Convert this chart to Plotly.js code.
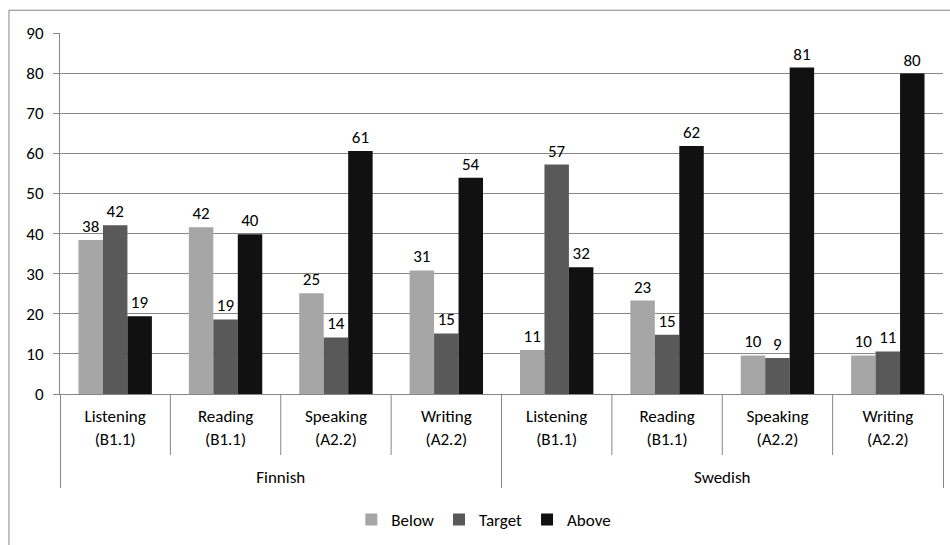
<!DOCTYPE html>
<html>
<head>
<meta charset="utf-8">
<script src="https://cdn.plot.ly/plotly-3.0.1.min.js"></script>
<style>
html,body{margin:0;padding:0;background:#fff;}
#chart{width:950px;height:545px;}
</style>
</head>
<body>
<div id="chart"></div>
<script>
const groups = ["Finnish","Finnish","Finnish","Finnish","Swedish","Swedish","Swedish","Swedish"];
const skills = ["Listening<br>(B1.1)","Reading<br>(B1.1)","Speaking<br>(A2.2)","Writing<br>(A2.2)",
                "Listening<br>(B1.1)","Reading<br>(B1.1)","Speaking<br>(A2.2)","Writing<br>(A2.2)"];
const below  = [38.4, 41.6, 25.1, 30.8, 11.0, 23.3, 9.6, 9.6];
const target = [42.1, 18.6, 14.1, 15.1, 57.2, 14.8, 9.0, 10.6];
const above  = [19.4, 39.8, 60.6, 53.9, 31.6, 61.8, 81.4, 79.9];
const seriesNames = ["Below","Target","Above"];
const yTicks = [0,10,20,30,40,50,60,70,80,90];

const colors = ["#a6a6a6","#595959","#111111"];
const font = "Carlito, Calibri, Lato, sans-serif";
const fs = 17;
const vals = [below, target, above];
// leading blank line pushes the group label row down like the reference
const groupLabels = groups.map(g => "<br>" + g);
const traces = vals.map((v,i)=>({
  type:"bar",
  name: seriesNames[i],
  x:[groupLabels, skills],
  y:v,
  marker:{color:colors[i], line:{width:0}},
  texttemplate:"%{y:.0f}",
  textposition:"outside",
  cliponaxis:false,
  textfont:{family:font, size:fs, color:"#000"},
  hoverinfo:"skip"
}));

// separators between sub-categories (styling only)
const gridC = "#868686";
const sepShapes = [];
for (let k=1;k<8;k++){
  if (k===4) continue;
  sepShapes.push({type:"line", xref:"paper", yref:"paper", x0:k/8, x1:k/8, y0:0, y1:-0.169,
                  line:{color:gridC, width:1}});
}

const layout = {
  width:950, height:545,
  margin:{l:60, r:7, t:33, b:151},
  paper_bgcolor:"#fff", plot_bgcolor:"#fff",
  barmode:"group", bargap:0.335, bargroupgap:0,
  font:{family:font, size:fs, color:"#000"},
  showlegend:true,
  legend:{orientation:"h", x:0.48, xanchor:"center", y:-0.349, yanchor:"middle",
          font:{family:font, size:fs}, traceorder:"normal"},
  xaxis:{type:"multicategory", automargin:false, showline:true, linecolor:gridC, linewidth:1,
         ticks:"", showdividers:true, dividercolor:gridC, dividerwidth:1, ticklabelstandoff:7,
         tickfont:{family:font, size:fs, color:"#000"}, showgrid:false, zeroline:false},
  yaxis:{range:[0,90], automargin:false, tickvals:yTicks, ticktext:yTicks.map(String),
         showline:true, linecolor:gridC, linewidth:1,
         ticks:"outside", ticklen:6, tickcolor:gridC, ticklabelstandoff:6,
         showgrid:true, gridcolor:gridC, gridwidth:1, zeroline:false,
         tickfont:{family:font, size:fs, color:"#000"}},
  shapes:[{type:"rect", xref:"paper", yref:"paper", x0:-0.0578, x1:1.2, y0:-1.5, y1:1.063,
           line:{color:gridC, width:1}, fillcolor:"rgba(0,0,0,0)", layer:"below"}].concat(sepShapes)
};
Plotly.newPlot("chart", traces, layout, {displayModeBar:false, staticPlot:true});
</script>
</body>
</html>
